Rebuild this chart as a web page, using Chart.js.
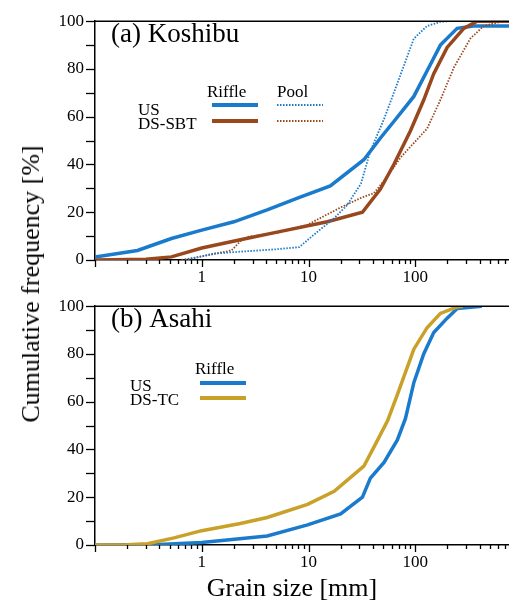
<!DOCTYPE html>
<html>
<head>
<meta charset="utf-8">
<script src="https://cdn.jsdelivr.net/npm/chart.js@4.4.1/dist/chart.umd.min.js"></script>
<style>
  html, body { margin: 0; padding: 0; background: #fff; }
  #wrap { position: relative; width: 509px; height: 603px; overflow: hidden; font-family: "Liberation Serif", serif; color: #000; }
  .panel { position: absolute; left: 0; }
  #ytitle { position: absolute; left: 31px; top: 284px; transform: translate(-50%, -50%) rotate(-90deg); white-space: nowrap; font-size: 26px; }
  #xtitle { position: absolute; left: 292px; top: 588px; transform: translate(-50%, -50%); white-space: nowrap; font-size: 26px; }
</style>
</head>
<body>
<div id="wrap">
  <canvas id="koshibu" class="panel" width="540" height="290" style="top:0"></canvas>
  <canvas id="asahi" class="panel" width="540" height="290" style="top:285px"></canvas>
  <div id="ytitle">Cumulative frequency [%]</div>
  <div id="xtitle">Grain size [mm]</div>
</div>
<script>
'use strict';

// ---- data (grain size in mm, cumulative frequency in %) ----
const koshibuUsRiffleSize  = [0.1, 0.25, 0.52, 1, 2, 4.1, 8, 16, 33, 47, 63, 97, 139, 172, 247, 351, 1000];
const koshibuUsRiffleFreq  = [1.2, 4, 9, 12.5, 16, 21, 26, 31, 42, 51, 58, 68.5, 82, 90, 97, 98, 98];
const koshibuDsRiffleSize  = [0.1, 0.3, 0.52, 1, 2.3, 5.5, 15, 32, 47, 63, 90, 120, 149, 199, 285, 380, 1000];
const koshibuDsRiffleFreq  = [0, 0.3, 1.3, 5, 8.5, 12, 16, 20, 29.6, 40, 54, 67, 78, 89, 97, 100, 100];
const koshibuUsPoolSize    = [0.7, 1.3, 2.7, 5, 8.2, 11.3, 17.4, 23, 31, 38, 51, 68, 97, 129, 172, 200];
const koshibuUsPoolFreq    = [0, 2.7, 3.7, 4.5, 5.4, 10.7, 17.5, 23, 32, 45.7, 59, 74, 92.7, 98, 99.7, 100];
const koshibuDsPoolSize    = [0.65, 1, 1.9, 2.4, 2.7, 5.1, 9.8, 20, 31, 41, 55, 73, 129, 172, 230, 328, 437, 627, 1000];
const koshibuDsPoolFreq    = [0, 1.5, 4, 8.7, 9.7, 11.4, 14.8, 22, 26, 28, 35, 43, 55, 67, 80.6, 92.7, 98, 99.7, 100];

const asahiUsRiffleSize    = [0.1, 0.4, 1, 4.1, 9.8, 20, 32, 38, 51, 68, 81, 97, 120, 149, 199, 247, 420];
const asahiUsRiffleFreq    = [0, 0.2, 1, 3.8, 8.4, 13, 20, 28, 34.6, 44, 53, 68, 80, 89, 95, 99, 100];
const asahiDsRiffleSize    = [0.1, 0.2, 0.31, 0.55, 1, 2.3, 4.1, 9.8, 17.4, 33, 41, 55, 68, 97, 129, 172, 247, 280];
const asahiDsRiffleFreq    = [0, 0.1, 0.5, 3, 6, 9, 11.5, 17, 22.5, 33, 41, 52, 63, 82, 91, 97, 99.7, 100];

const yTicks = [0, 10, 20, 30, 40, 50, 60, 70, 80, 90, 100];
const xLabels = [1, 10, 100];

// ---- styles ----
const BLUE  = 'rgb(26,122,204)';
const BROWN = 'rgb(153,72,30)';
const GOLD  = 'rgb(201,160,40)';
const FAMILY = '"Liberation Serif", serif';

// log ticks 0.1 .. 1000 (1..9 in each decade)
const xTickValues = [];
for (let e = -1; e <= 2; e++) {
  for (let m = 1; m <= 9; m++) xTickValues.push(+(m * Math.pow(10, e)).toPrecision(3));
}
xTickValues.push(1000);

function pts(xs, ys) { return xs.map((x, i) => ({ x, y: ys[i] })); }

function series(label, xs, ys, color, dotted) {
  return {
    label, data: pts(xs, ys),
    borderColor: color, backgroundColor: color,
    borderWidth: dotted ? 1.8 : 3.5,
    borderDash: dotted ? [1.5, 1.5] : [],
    pointRadius: 0, tension: 0, fill: false
  };
}

function isMajor(v) { return Math.abs(Math.log10(v) - Math.round(Math.log10(v))) < 1e-9; }

// ticks, frame, title and legend drawn on top
const decor = {
  id: 'decor',
  afterDraw(chart, args, o) {
    const { ctx, chartArea: a, scales } = chart;
    ctx.save();
    ctx.strokeStyle = '#000';
    ctx.lineWidth = 1.5;
    // top frame
    ctx.beginPath(); ctx.moveTo(a.left, a.top); ctx.lineTo(chart.width, a.top); ctx.stroke();
    // x ticks, down
    ctx.lineWidth = 1.3;
    xTickValues.forEach(v => {
      const px = Math.round(scales.x.getPixelForValue(v)) + 0.5;
      const len = isMajor(v) ? 7 : 4;
      ctx.beginPath(); ctx.moveTo(px, a.bottom); ctx.lineTo(px, a.bottom + len); ctx.stroke();
    });
    // y ticks, left
    yTicks.forEach(v => {
      const py = Math.round(scales.y.getPixelForValue(v)) + 0.5;
      ctx.beginPath(); ctx.moveTo(a.left - 9, py); ctx.lineTo(a.left, py); ctx.stroke();
    });
    // panel title
    ctx.fillStyle = '#000';
    ctx.textBaseline = 'middle';
    ctx.textAlign = 'left';
    ctx.font = '27px ' + FAMILY;
    ctx.fillText(o.title, 111, 35);
    // legend
    ctx.font = '17px ' + FAMILY;
    o.headers.forEach(h => ctx.fillText(h.text, h.x, h.y));
    o.rows.forEach(r => ctx.fillText(r.text, r.x, r.y));
    o.keys.forEach(k => {
      ctx.strokeStyle = k.color;
      ctx.lineWidth = k.dotted ? 1.8 : 4;
      ctx.setLineDash(k.dotted ? [1.5, 1.5] : []);
      ctx.beginPath(); ctx.moveTo(k.x, k.y); ctx.lineTo(k.x + 46, k.y); ctx.stroke();
    });
    ctx.restore();
  }
};

function makeChart(id, datasets, decorOpts) {
  return new Chart(document.getElementById(id), {
    type: 'line',
    data: { datasets },
    options: {
      responsive: false,
      animation: false,
      layout: { padding: { top: 12, right: 18, left: 0, bottom: 0 } },
      plugins: { legend: { display: false }, tooltip: { enabled: false }, decor: decorOpts },
      scales: {
        x: {
          type: 'logarithmic', min: 0.1, max: 1000,
          afterBuildTicks: s => { s.ticks = xTickValues.map(v => ({ value: v })); },
          afterFit: s => { s.height = 30; },
          ticks: {
            autoSkip: false, maxRotation: 0, padding: 7, color: '#000',
            font: { family: FAMILY, size: 17 },
            callback: v => xLabels.includes(v) ? String(v) : ''
          },
          grid: { drawOnChartArea: false, drawTicks: false },
          border: { color: '#000', width: 1.5 }
        },
        y: {
          min: 0, max: 100,
          afterBuildTicks: s => { s.ticks = yTicks.map(v => ({ value: v })); },
          afterFit: s => { s.width = 95; },
          ticks: {
            padding: 11, color: '#000',
            font: { family: FAMILY, size: 17 },
            callback: v => v % 20 === 0 ? String(v) : ''
          },
          grid: { drawOnChartArea: false, drawTicks: false },
          border: { color: '#000', width: 1.5 }
        }
      }
    },
    plugins: [decor]
  });
}

makeChart('koshibu', [
  series('US Pool', koshibuUsPoolSize, koshibuUsPoolFreq, BLUE, true),
  series('DS-SBT Pool', koshibuDsPoolSize, koshibuDsPoolFreq, BROWN, true),
  series('DS-SBT Riffle', koshibuDsRiffleSize, koshibuDsRiffleFreq, BROWN, false),
  series('US Riffle', koshibuUsRiffleSize, koshibuUsRiffleFreq, BLUE, false)
], {
  title: '(a) Koshibu',
  headers: [{ text: 'Riffle', x: 207, y: 93 }, { text: 'Pool', x: 277, y: 93 }],
  rows: [{ text: 'US', x: 138, y: 111 }, { text: 'DS-SBT', x: 138, y: 125 }],
  keys: [
    { x: 212, y: 105, color: BLUE }, { x: 212, y: 121, color: BROWN },
    { x: 277, y: 105, color: BLUE, dotted: true }, { x: 277, y: 121, color: BROWN, dotted: true }
  ]
});

makeChart('asahi', [
  series('DS-TC Riffle', asahiDsRiffleSize, asahiDsRiffleFreq, GOLD, false),
  series('US Riffle', asahiUsRiffleSize, asahiUsRiffleFreq, BLUE, false)
], {
  title: '(b) Asahi',
  headers: [{ text: 'Riffle', x: 195, y: 85 }],
  rows: [{ text: 'US', x: 130, y: 102 }, { text: 'DS-TC', x: 130, y: 116 }],
  keys: [{ x: 200, y: 98, color: BLUE }, { x: 200, y: 113, color: GOLD }]
});
</script>
</body>
</html>
